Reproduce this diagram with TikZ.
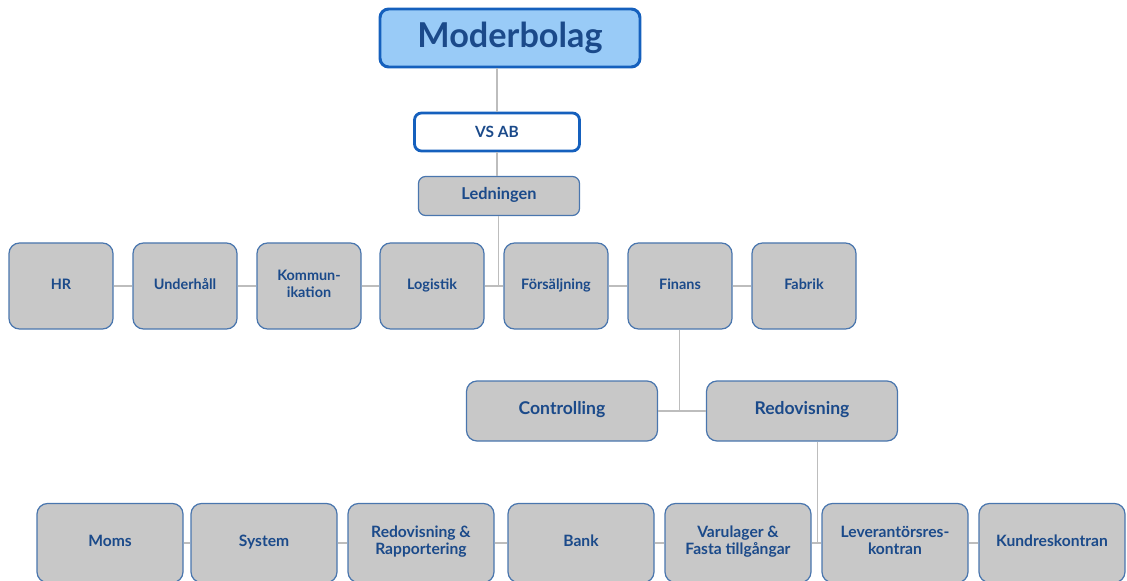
\documentclass[tikz,border=0pt]{standalone}
\usepackage{fontspec}
\setmainfont{Lato}
\usetikzlibrary{calc}
\definecolor{darkblue}{HTML}{1560BD}
\definecolor{lightblue}{HTML}{99CBF7}
\definecolor{boxgray}{HTML}{C8C8C8}
\definecolor{boxline}{HTML}{4A76AE}
\definecolor{textblue}{HTML}{1B4A8A}
\definecolor{linkgray}{HTML}{BDBDBD}
\begin{document}
\begin{tikzpicture}[x=0.02cm,y=-0.02cm,
  top/.style={draw=darkblue,line width=1.7pt,fill=lightblue,rounded corners=5pt,
    minimum width=260*0.02cm,minimum height=58*0.02cm,text=textblue,
    font=\fontsize{19.5}{21}\selectfont\bfseries},
  firm/.style={draw=darkblue,line width=1.6pt,fill=white,rounded corners=4pt,
    minimum width=165*0.02cm,minimum height=38*0.02cm,text=textblue,
    font=\fontsize{8.8}{10}\selectfont\bfseries},
  unit/.style={draw=boxline,line width=0.7pt,fill=boxgray,rounded corners=6pt,
    align=center,text=textblue,inner sep=1pt,
    execute at begin node=\strut,execute at end node=\strut,
    font=\fontsize{8.2}{9.5}\selectfont\bfseries},
  lead/.style={unit,minimum width=161*0.02cm,minimum height=39*0.02cm,
    rounded corners=4pt,font=\fontsize{9.3}{10}\selectfont\bfseries},
  dept/.style={unit,minimum width=104*0.02cm,minimum height=86*0.02cm},
  sub/.style={unit,minimum width=191*0.02cm,minimum height=60*0.02cm,
    font=\fontsize{10}{11}\selectfont\bfseries},
  task/.style={unit,minimum width=146*0.02cm,minimum height=79*0.02cm,
    font=\fontsize{8.9}{10}\selectfont\bfseries},
  link/.style={draw=linkgray,line width=0.6pt}]
\useasboundingbox (0,0) rectangle (1127,581);
% top of the tree
\node (moder) at (510,38) [top] {Moderbolag};
\node (vsab) at (497,132) [firm] {VS AB};
\node (ledn) at (499,196) [lead] {Ledningen};
% departments
\node (hr) at (61,286) [dept] {HR};
\node (underhall) at (185,286) [dept] {Underhåll};
\node (kommun) at (309,286) [dept] {Kommun-\\ikation};
\node (logistik) at (432,286) [dept] {Logistik};
\node (forsalj) at (556,286) [dept] {Försäljning};
\node (finans) at (680,286) [dept] {Finans};
\node (fabrik) at (804,286) [dept] {Fabrik};
% under Finans
\node (control) at (562,411) [sub] {Controlling};
\node (redov) at (802,411) [sub] {Redovisning};
% under Redovisning
\node (moms) at (110,543) [task] {Moms};
\node (system) at (264,543) [task] {System};
\node (redrapp) at (421,543) [task] {Redovisning \&\\Rapportering};
\node (bank) at (581,543) [task] {Bank};
\node (varulager) at (738,543) [task] {Varulager \&\\Fasta tillgångar};
\node (levres) at (895,543) [task] {Leverantörsres-\\kontran};
\node (kundres) at (1052,543) [task] {Kundreskontran};
\coordinate (j1) at ($(logistik.east)!0.75!(forsalj.west)$);
\coordinate (j2) at ($(control.east)!0.45!(redov.west)$);
\coordinate (j3) at ($(varulager.east)!0.6!(levres.west)$);
% connectors
\draw[link] (vsab.north) -- (vsab.north |- moder.south);
\draw[link] (vsab.south) -- (vsab.south |- ledn.north);
\draw[link] (ledn.south -| j1) -- (j1);
\draw[link] (hr) -- (underhall) -- (kommun) -- (logistik) -- (forsalj) -- (finans) -- (fabrik);
\draw[link] (finans.south -| j2) -- (j2);
\draw[link] (control) -- (redov);
\draw[link] (redov.south -| j3) -- (j3);
\draw[link] (moms) -- (system) -- (redrapp) -- (bank) -- (varulager) -- (levres) -- (kundres);
\end{tikzpicture}
\end{document}
